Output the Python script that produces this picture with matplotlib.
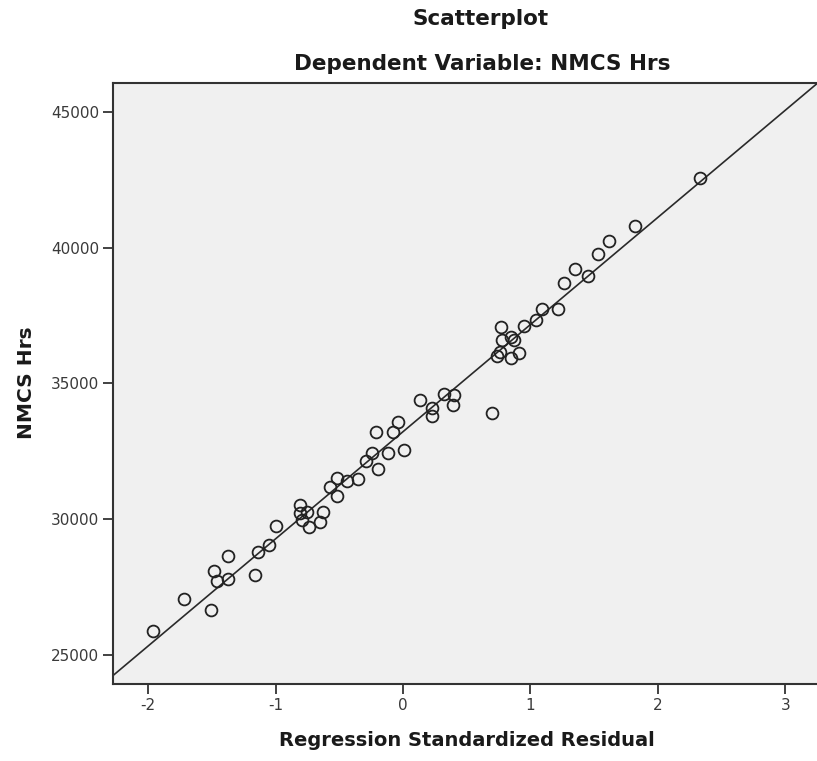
import matplotlib.pyplot as plt
import numpy as np

# standardized residuals and observed hours
resid = [-1.96, -1.72, -1.51, -1.48, -1.46, -1.37, -1.37, -1.16, -1.14, -1.05,
         -1.00, -0.81, -0.81, -0.75, -0.79, -0.74, -0.65, -0.63, -0.57, -0.52,
         -0.52, -0.44, -0.35, -0.29, -0.24, -0.20, -0.12, -0.21, -0.08, -0.04,
         0.01, 0.13, 0.23, 0.23, 0.32, 0.40, 0.39, 0.70, 0.74, 0.76,
         0.78, 0.77, 0.85, 0.87, 0.85, 0.91, 0.95, 1.04, 1.09, 1.22,
         1.26, 1.35, 1.45, 1.53, 1.62, 1.82, 2.33]
hrs = [25880, 27050, 26660, 28100, 27720, 27810, 28650, 27930, 28780, 29030,
       29750, 30520, 30220, 30270, 29970, 29710, 29900, 30280, 31200, 31500,
       30850, 31410, 31480, 32150, 32450, 31840, 32450, 33220, 33200, 33560,
       32550, 34370, 34090, 33810, 34610, 34580, 34210, 33900, 36010, 36170,
       36600, 37060, 36720, 36600, 35930, 36110, 37130, 37340, 37730, 37730,
       38710, 39210, 38970, 39770, 40250, 40780, 42580]

# fit line
intercept = 33220
slope = 3945

plt.rcParams['font.family'] = 'DejaVu Sans'
plt.rcParams['axes.unicode_minus'] = False
fig = plt.figure(figsize=(8.17, 7.61), dpi=100)
ax = fig.add_axes([113/817, 77/761, 706/817, 601/761])
ax.set_facecolor('#f0f0f0')

ax.plot(resid, hrs, 'o', ms=8.5, mfc='none', mec='#222222', mew=1.3, zorder=3)

xl = np.array([-2.276, 3.265])
ax.plot(xl, intercept + slope*xl, color='#2a2a2a', lw=1.2, zorder=2)

ax.set_xlim(-2.276, 3.265)
ax.set_ylim(23930, 46060)
ax.set_xticks([-2, -1, 0, 1, 2, 3])
ax.set_yticks([25000, 30000, 35000, 40000, 45000])
ax.tick_params(length=7, width=1.3, color='#333333', labelsize=11,
               labelcolor='#3a3a3a', pad=3)
for s in ['left', 'bottom', 'top']:
    ax.spines[s].set_color('#333333')
    ax.spines[s].set_linewidth(1.5)
ax.spines['right'].set_visible(False)

fig.text(481/817, 1 - 19/761, 'Scatterplot', ha='center', va='center',
         fontsize=15.5, fontweight='bold', color='#1a1a1a')
fig.text(482/817, 1 - 64/761, 'Dependent Variable: NMCS Hrs', ha='center',
         va='center', fontsize=15.5, fontweight='bold', color='#1a1a1a')
fig.text(467/817, 1 - 740/761, 'Regression Standardized Residual',
         ha='center', va='center', fontsize=14, fontweight='bold',
         color='#1a1a1a')
fig.text(27/817, 1 - 383/761, 'NMCS Hrs', ha='center', va='center',
         rotation=90, fontsize=14.5, fontweight='bold', color='#1a1a1a')

plt.savefig('out.png', dpi=100)
